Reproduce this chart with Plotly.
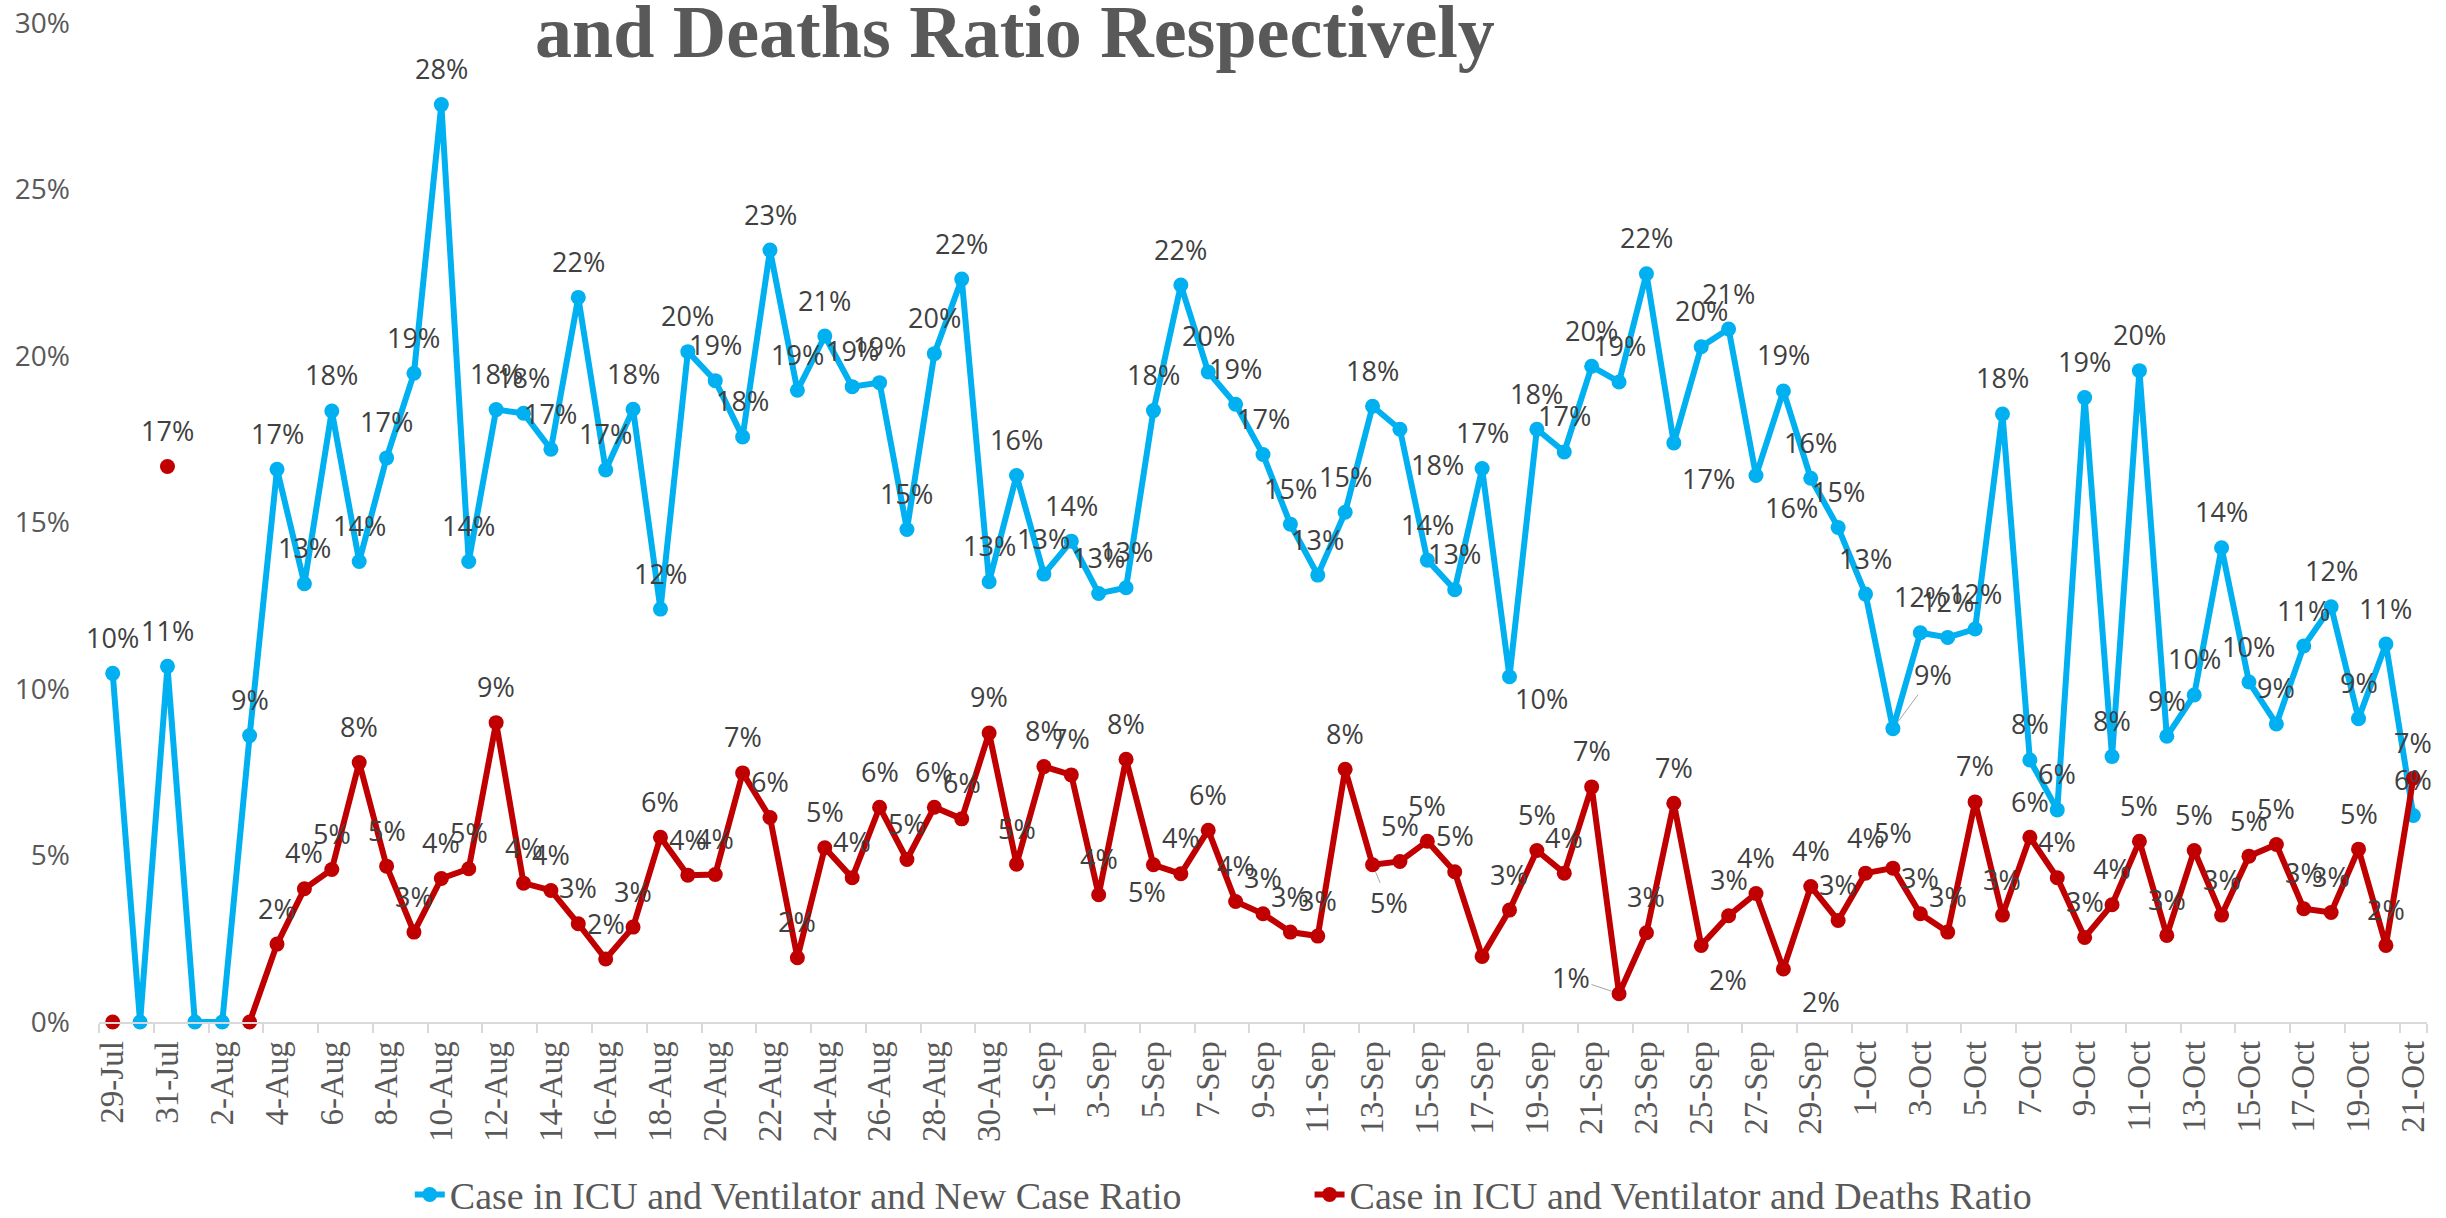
import plotly.graph_objects as go

dates = [
    "29-Jul", "30-Jul", "31-Jul",
    "1-Aug", "2-Aug", "3-Aug", "4-Aug", "5-Aug", "6-Aug", "7-Aug", "8-Aug", "9-Aug", "10-Aug",
    "11-Aug", "12-Aug", "13-Aug", "14-Aug", "15-Aug", "16-Aug", "17-Aug", "18-Aug", "19-Aug", "20-Aug",
    "21-Aug", "22-Aug", "23-Aug", "24-Aug", "25-Aug", "26-Aug", "27-Aug", "28-Aug", "29-Aug", "30-Aug", "31-Aug",
    "1-Sep", "2-Sep", "3-Sep", "4-Sep", "5-Sep", "6-Sep", "7-Sep", "8-Sep", "9-Sep", "10-Sep",
    "11-Sep", "12-Sep", "13-Sep", "14-Sep", "15-Sep", "16-Sep", "17-Sep", "18-Sep", "19-Sep", "20-Sep",
    "21-Sep", "22-Sep", "23-Sep", "24-Sep", "25-Sep", "26-Sep", "27-Sep", "28-Sep", "29-Sep", "30-Sep",
    "1-Oct", "2-Oct", "3-Oct", "4-Oct", "5-Oct", "6-Oct", "7-Oct", "8-Oct", "9-Oct", "10-Oct",
    "11-Oct", "12-Oct", "13-Oct", "14-Oct", "15-Oct", "16-Oct", "17-Oct", "18-Oct", "19-Oct", "20-Oct", "21-Oct",
]

tick_labels = [
    "29-Jul", "31-Jul", "2-Aug", "4-Aug", "6-Aug", "8-Aug", "10-Aug", "12-Aug", "14-Aug", "16-Aug",
    "18-Aug", "20-Aug", "22-Aug", "24-Aug", "26-Aug", "28-Aug", "30-Aug", "1-Sep", "3-Sep", "5-Sep",
    "7-Sep", "9-Sep", "11-Sep", "13-Sep", "15-Sep", "17-Sep", "19-Sep", "21-Sep", "23-Sep", "25-Sep",
    "27-Sep", "29-Sep", "1-Oct", "3-Oct", "5-Oct", "7-Oct", "9-Oct", "11-Oct", "13-Oct", "15-Oct",
    "17-Oct", "19-Oct", "21-Oct",
]

y_tick_values = [0, 5, 10, 15, 20, 25, 30]
y_tick_labels = ["0%", "5%", "10%", "15%", "20%", "25%", "30%"]

# Case in ICU and Ventilator and New Case Ratio (%)
new_case_ratio = [
    10.47, 0.0, 10.68, 0.0, 0.0, 8.6, 16.6, 13.16, 18.35, 13.83, 16.94, 19.48, 27.55,
    13.83, 18.39, 18.28, 17.2, 21.76, 16.58, 18.4, 12.4, 20.13, 19.26, 17.57, 23.18, 18.97, 20.6,
    19.08, 19.2, 14.79, 20.07, 22.31, 13.22, 16.41, 13.45, 14.44, 12.87, 13.04, 18.36, 22.13, 19.52,
    18.55, 17.04, 14.95, 13.42, 15.31, 18.49, 17.8, 13.87, 12.98, 16.62, 10.37, 17.8, 17.12, 19.69,
    19.22, 22.47, 17.39, 20.28, 20.81, 16.41, 18.95, 16.33, 14.85, 12.85, 8.81, 11.69, 11.55, 11.8,
    18.26, 7.87, 6.37, 18.75, 7.97, 19.56, 8.58, 9.82, 14.24, 10.21, 8.95, 11.29, 12.47, 9.11,
    11.35, 6.2,
]

# Case in ICU and Ventilator and Deaths Ratio (%)
deaths_ratio = [
    0.0, None, 16.68, None, None, 0.0, 2.34, 4.0, 4.58, 7.79, 4.68, 2.7, 4.31,
    4.6, 8.99, 4.17, 3.95, 2.95, 1.89, 2.85, 5.55, 4.41, 4.43, 7.48, 6.14, 1.93, 5.23,
    4.33, 6.45, 4.88, 6.45, 6.1, 8.68, 4.74, 7.67, 7.42, 3.82, 7.89, 4.72, 4.45, 5.76,
    3.62, 3.25, 2.7, 2.58, 7.59, 4.72, 4.82, 5.43, 4.51, 1.97, 3.36, 5.15, 4.47, 7.06,
    0.85, 2.68, 6.57, 2.3, 3.19, 3.86, 1.59, 4.07, 3.05, 4.47, 4.62, 3.25, 2.7, 6.61,
    3.21, 5.55, 4.33, 2.54, 3.52, 5.43, 2.6, 5.15, 3.21, 4.98, 5.33, 3.4, 3.29, 5.19,
    2.3, 7.32,
]

series_names = [
    "Case in ICU and Ventilator and New Case Ratio",
    "Case in ICU and Ventilator and Deaths Ratio",
]
title_text = "and Deaths Ratio Respectively"

BLUE = "#00B0F0"
RED = "#C00000"
GREY = "#595959"

# label placement styles (index -> (xshift, yshift, leader line))
blue_label_style = {47: (38, -35, False), 51: (32, -22, False), 57: (35, -36, False),
                    60: (36, -32, False), 65: (40, 54, True)}
red_label_style = {38: (-6, -27, False), 46: (16, -38, True), 55: (-48, 16, True),
                   58: (27, -34, False), 61: (38, -32, False)}
red_hidden_labels = {50}

fig = go.Figure()
fig.add_trace(go.Scatter(
    x=dates, y=new_case_ratio, mode="lines+markers", name=series_names[0],
    line=dict(color=BLUE, width=6), marker=dict(size=15, color=BLUE),
    connectgaps=False, cliponaxis=False, legend="legend",
))
fig.add_trace(go.Scatter(
    x=dates, y=deaths_ratio, mode="lines+markers", name=series_names[1],
    line=dict(color=RED, width=6), marker=dict(size=15, color=RED),
    connectgaps=False, cliponaxis=False, legend="legend2",
))

annotations = []
label_font = dict(family="Open Sans", size=27, color="#404040")


def add_labels(values, styles, hidden):
    for i, v in enumerate(values):
        if v is None or v == 0 or i in hidden:
            continue
        txt = f"{round(v)}%"
        xs, ys, leader = styles.get(i, (0, 36, False))
        if leader:
            annotations.append(dict(
                x=dates[i], y=v, xref="x", yref="y", text=txt, showarrow=True,
                ax=xs, ay=-ys, axref="pixel", ayref="pixel", arrowhead=0,
                arrowwidth=1, arrowcolor="#A6A6A6", standoff=8,
                xanchor="center", yanchor="middle", font=label_font,
            ))
        else:
            annotations.append(dict(
                x=dates[i], y=v, xref="x", yref="y", text=txt, showarrow=False,
                xshift=xs, yshift=ys, xanchor="center", yanchor="middle", font=label_font,
            ))


add_labels(new_case_ratio, blue_label_style, set())
add_labels(deaths_ratio, red_label_style, red_hidden_labels)

annotations.append(dict(
    x=0.3935, y=0.991, xref="paper", yref="paper", text="<b>" + title_text + "</b>",
    showarrow=False, xanchor="center", yanchor="middle",
    font=dict(family="Liberation Serif", size=74, color=GREY),
))

legend_font = dict(family="Liberation Serif", size=38, color=GREY)
fig.update_layout(
    width=2446, height=1218,
    margin=dict(l=99, r=19, t=23, b=196, autoexpand=False),
    paper_bgcolor="white", plot_bgcolor="white",
    annotations=annotations,
    legend=dict(x=0.1335, y=0.019, xref="paper", yref="container", xanchor="left",
                yanchor="middle", orientation="h", font=legend_font,
                bgcolor="rgba(0,0,0,0)"),
    legend2=dict(x=0.52, y=0.019, xref="paper", yref="container", xanchor="left",
                 yanchor="middle", orientation="h", font=legend_font,
                 bgcolor="rgba(0,0,0,0)"),
    showlegend=True,
)

fig.update_xaxes(
    type="category", categoryorder="array", categoryarray=dates,
    range=[-0.5, len(dates) - 0.5], automargin=False,
    tickmode="array", tickvals=tick_labels, ticktext=tick_labels,
    tickangle=-90, tickson="boundaries", ticks="outside", ticklen=9, tickwidth=2,
    tickcolor="#D9D9D9", showline=True, linecolor="#D9D9D9", linewidth=2,
    showgrid=False, zeroline=False, ticklabelstandoff=4,
    tickfont=dict(family="Liberation Serif", size=33, color=GREY),
)
fig.update_yaxes(
    range=[0, 30], tickmode="array", tickvals=y_tick_values, ticktext=y_tick_labels,
    showgrid=False, showline=False, zeroline=False, automargin=False,
    ticklabelstandoff=28,
    tickfont=dict(family="Open Sans", size=28, color=GREY),
)

fig.write_html("out.html", config={"displayModeBar": False},
               post_script="document.body.style.margin='0';")
